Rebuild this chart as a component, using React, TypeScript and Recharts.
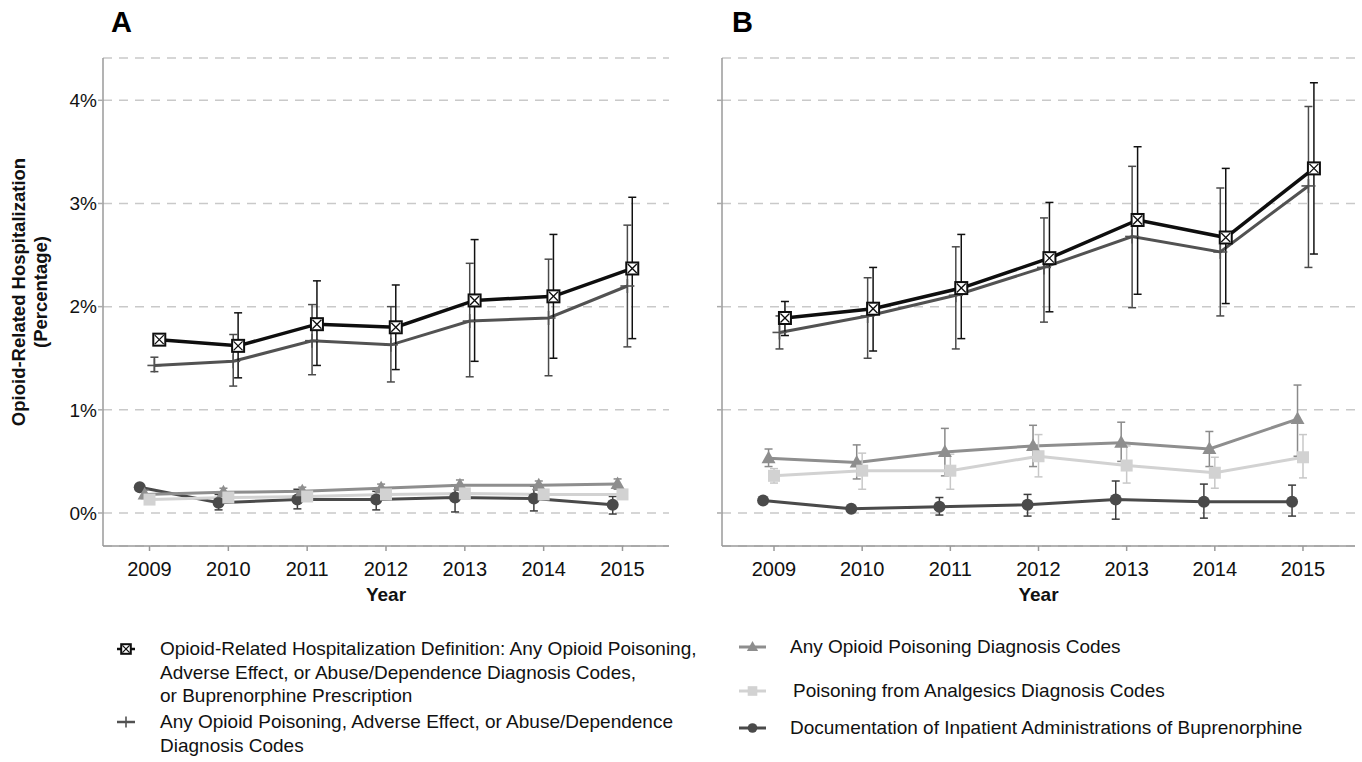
import React from 'react';
import { LineChart, Line, XAxis, YAxis, CartesianGrid, ErrorBar } from 'recharts';

const FONT = '"Liberation Sans", Arial, Helvetica, sans-serif';

// ---------- data ----------
const years = [2009, 2010, 2011, 2012, 2013, 2014, 2015];
const yTicks = [0, 1, 2, 3, 4];

// Panel A
const aAny = [1.68, 1.62, 1.83, 1.8, 2.06, 2.1, 2.37];
const aAnyLow = [1.66, 1.31, 1.43, 1.39, 1.47, 1.5, 1.69];
const aAnyHigh = [1.7, 1.94, 2.25, 2.21, 2.65, 2.7, 3.06];
const aPad = [1.43, 1.47, 1.67, 1.63, 1.86, 1.89, 2.2];
const aPadLow = [1.37, 1.23, 1.34, 1.27, 1.32, 1.33, 1.61];
const aPadHigh = [1.51, 1.73, 2.02, 2.0, 2.42, 2.46, 2.79];
const aPois = [0.18, 0.2, 0.21, 0.24, 0.27, 0.27, 0.28];
const aPoisLow = [0.14, 0.16, 0.17, 0.2, 0.22, 0.22, 0.23];
const aPoisHigh = [0.22, 0.24, 0.25, 0.28, 0.32, 0.31, 0.33];
const aAnalg = [0.13, 0.15, 0.16, 0.18, 0.19, 0.18, 0.18];
const aAnalgLow = [0.1, 0.12, 0.13, 0.15, 0.16, 0.15, 0.15];
const aAnalgHigh = [0.16, 0.18, 0.19, 0.21, 0.23, 0.22, 0.22];
const aBup = [0.25, 0.1, 0.13, 0.13, 0.15, 0.14, 0.08];
const aBupLow = [0.24, 0.03, 0.04, 0.03, 0.01, 0.02, -0.01];
const aBupHigh = [0.26, 0.18, 0.23, 0.21, 0.27, 0.26, 0.16];

// Panel B
const bAny = [1.89, 1.98, 2.18, 2.47, 2.84, 2.67, 3.34];
const bAnyLow = [1.72, 1.57, 1.69, 1.95, 2.12, 2.03, 2.51];
const bAnyHigh = [2.05, 2.38, 2.7, 3.01, 3.55, 3.34, 4.17];
const bPad = [1.75, 1.91, 2.11, 2.38, 2.68, 2.53, 3.17];
const bPadLow = [1.59, 1.5, 1.59, 1.85, 1.99, 1.91, 2.38];
const bPadHigh = [1.91, 2.28, 2.58, 2.86, 3.36, 3.15, 3.94];
const bPois = [0.53, 0.49, 0.59, 0.65, 0.68, 0.62, 0.91];
const bPoisLow = [0.45, 0.33, 0.36, 0.45, 0.5, 0.45, 0.55];
const bPoisHigh = [0.62, 0.66, 0.82, 0.85, 0.88, 0.79, 1.24];
const bAnalg = [0.36, 0.41, 0.41, 0.55, 0.46, 0.39, 0.54];
const bAnalgLow = [0.29, 0.23, 0.23, 0.35, 0.29, 0.24, 0.34];
const bAnalgHigh = [0.43, 0.58, 0.57, 0.76, 0.65, 0.54, 0.76];
const bBup = [0.12, 0.04, 0.06, 0.08, 0.13, 0.11, 0.11];
const bBupLow = [0.11, 0.03, -0.02, -0.03, -0.06, -0.05, -0.03];
const bBupHigh = [0.13, 0.05, 0.15, 0.18, 0.31, 0.28, 0.27];

const legendLeft1 = [
  'Opioid-Related Hospitalization Definition: Any Opioid Poisoning,',
  'Adverse Effect, or Abuse/Dependence Diagnosis Codes,',
  'or Buprenorphine Prescription',
];
const legendLeft2 = ['Any Opioid Poisoning, Adverse Effect, or Abuse/Dependence', 'Diagnosis Codes'];
const legendRight = [
  'Any Opioid Poisoning Diagnosis Codes',
  'Poisoning from Analgesics Diagnosis Codes',
  'Documentation of Inpatient Administrations of Buprenorphine',
];

// ---------- styling ----------
const DODGE = 0.062;
const X_DOMAIN: [number, number] = [2008.41, 2015.59];
const Y_DOMAIN: [number, number] = [-0.32, 4.41];

type MarkerType = 'squareX' | 'plus' | 'triangle' | 'square' | 'circle';

const SERIES_STYLE: Record<string, { color: string; barColor: string; marker: MarkerType; width: number; dodge: number }> = {
  bup: { color: '#4a4a4a', barColor: '#3d3d3d', marker: 'circle', width: 3, dodge: -2 },
  pois: { color: '#8e8e8e', barColor: '#8a8a8a', marker: 'triangle', width: 3, dodge: -1 },
  analg: { color: '#d2d2d2', barColor: '#c8c8c8', marker: 'square', width: 3, dodge: 0 },
  pad: { color: '#525252', barColor: '#4a4a4a', marker: 'plus', width: 3, dodge: 1 },
  any: { color: '#0e0e0e', barColor: '#111111', marker: 'squareX', width: 3.5, dodge: 2 },
};

function renderMarker(type: MarkerType, cx: number, cy: number, color: string, key?: any, scale = 1) {
  if (cx == null || cy == null || isNaN(cx) || isNaN(cy)) return <g key={key} />;
  const s = scale;
  switch (type) {
    case 'squareX':
      return (
        <g key={key}>
          <rect x={cx - 6 * s} y={cy - 6 * s} width={12 * s} height={12 * s} fill="#ffffff" stroke={color} strokeWidth={2} />
          <line x1={cx - 4.5 * s} y1={cy - 4.5 * s} x2={cx + 4.5 * s} y2={cy + 4.5 * s} stroke={color} strokeWidth={1.3} />
          <line x1={cx - 4.5 * s} y1={cy + 4.5 * s} x2={cx + 4.5 * s} y2={cy - 4.5 * s} stroke={color} strokeWidth={1.3} />
        </g>
      );
    case 'plus':
      return (
        <g key={key}>
          <line x1={cx - 7 * s} y1={cy} x2={cx + 7 * s} y2={cy} stroke={color} strokeWidth={1.6} />
          <line x1={cx} y1={cy - 7 * s} x2={cx} y2={cy + 7 * s} stroke={color} strokeWidth={1.6} />
        </g>
      );
    case 'triangle':
      return (
        <polygon
          key={key}
          points={`${cx},${cy - 7.5 * s} ${cx - 7 * s},${cy + 5 * s} ${cx + 7 * s},${cy + 5 * s}`}
          fill={color}
        />
      );
    case 'square':
      return <rect key={key} x={cx - 6 * s} y={cy - 6 * s} width={12 * s} height={12 * s} fill={color} />;
    case 'circle':
    default:
      return <circle key={key} cx={cx} cy={cy} r={6 * s} fill={color} />;
  }
}

function build(vals: number[], lows: number[], highs: number[], dodgeSteps: number) {
  return years.map((yr, i) => ({
    x: yr + dodgeSteps * DODGE,
    y: vals[i],
    err: [vals[i] - lows[i], highs[i] - vals[i]],
  }));
}

type SeriesSet = {
  any: number[][];
  pad: number[][];
  pois: number[][];
  analg: number[][];
  bup: number[][];
};

const panelA: SeriesSet = {
  bup: [aBup, aBupLow, aBupHigh],
  pois: [aPois, aPoisLow, aPoisHigh],
  analg: [aAnalg, aAnalgLow, aAnalgHigh],
  pad: [aPad, aPadLow, aPadHigh],
  any: [aAny, aAnyLow, aAnyHigh],
};
const panelB: SeriesSet = {
  bup: [bBup, bBupLow, bBupHigh],
  pois: [bPois, bPoisLow, bPoisHigh],
  analg: [bAnalg, bAnalgLow, bAnalgHigh],
  pad: [bPad, bPadLow, bPadHigh],
  any: [bAny, bAnyLow, bAnyHigh],
};

const ORDER = ['bup', 'pois', 'analg', 'pad', 'any'];

const YLabel = (props: any) => {
  const vb = props.viewBox || { x: 0, y: 58, width: 103, height: 488 };
  const cy = vb.y + vb.height / 2 - 10;
  return (
    <g>
      <text
        transform={`translate(25, ${cy}) rotate(-90)`}
        textAnchor="middle"
        fontWeight="bold"
        fontSize={18.5}
        fontFamily={FONT}
        fill="#111"
      >
        Opioid-Related Hospitalization
      </text>
      <text
        transform={`translate(47, ${cy}) rotate(-90)`}
        textAnchor="middle"
        fontWeight="bold"
        fontSize={18.5}
        fontFamily={FONT}
        fill="#111"
      >
        (Percentage)
      </text>
    </g>
  );
};

function Panel({ set, width, height, yAxisWidth, marginRight, showYLabels }: {
  set: SeriesSet; width: number; height: number; yAxisWidth: number; marginRight: number; showYLabels: boolean;
}) {
  return (
    <LineChart width={width} height={height} margin={{ top: 58, right: marginRight, bottom: 14, left: 0 }}>
      <CartesianGrid vertical={false} stroke="#c9c9c9" strokeWidth={1.5} strokeDasharray="9 7" />
      <XAxis
        type="number"
        dataKey="x"
        domain={X_DOMAIN}
        allowDataOverflow
        ticks={years}
        interval={0}
        height={60}
        axisLine={{ stroke: '#9a9a9a', strokeWidth: 1.5 }}
        tickLine={{ stroke: '#9a9a9a', strokeWidth: 1.5 }}
        tickSize={5}
        tickMargin={11}
        tick={{ fill: '#111', fontSize: 20, fontFamily: FONT }}
        label={{ value: 'Year', position: 'insideBottom', offset: 5, fill: '#111', fontSize: 19, fontWeight: 'bold', fontFamily: FONT }}
      />
      <YAxis
        type="number"
        domain={Y_DOMAIN}
        allowDataOverflow
        ticks={yTicks}
        interval={0}
        width={yAxisWidth}
        axisLine={{ stroke: '#9a9a9a', strokeWidth: 1.5 }}
        tickLine={{ stroke: '#aaaaaa', strokeWidth: 1.5 }}
        tickSize={5}
        tickMargin={1}
        tick={{ fill: '#111', fontSize: 19, fontFamily: FONT }}
        tickFormatter={(v: number) => (showYLabels ? `${v}%` : '')}
        label={showYLabels ? { content: (p: any) => <YLabel {...p} /> } : undefined}
      />
      {ORDER.map((k) => {
        const st = SERIES_STYLE[k];
        const [v, lo, hi] = (set as any)[k];
        const data = build(v, lo, hi, st.dodge);
        return (
          <Line
            key={k}
            data={data}
            dataKey="y"
            type="linear"
            stroke={st.color}
            strokeWidth={st.width}
            isAnimationActive={false}
            activeDot={false}
            dot={(p: any) => renderMarker(st.marker, p.cx, p.cy, st.color, `${k}-${p.index}`)}
          >
            <ErrorBar dataKey="err" direction="y" width={4} stroke={st.barColor} strokeWidth={1.5} />
          </Line>
        );
      })}
    </LineChart>
  );
}

function LegendIcon({ type, color, lineWidth, w }: { type: MarkerType; color: string; lineWidth: number; w: number }) {
  return (
    <svg width={w} height={18} style={{ display: 'block' }}>
      <line x1={0} y1={9} x2={w} y2={9} stroke={color} strokeWidth={lineWidth} />
      {renderMarker(type, w / 2, 9, color, undefined, 0.8)}
    </svg>
  );
}

const textStyle: React.CSSProperties = {
  position: 'absolute',
  fontFamily: FONT,
  fontSize: 19,
  color: '#111',
  whiteSpace: 'nowrap',
  lineHeight: '23.5px',
};

export default function App() {
  return (
    <div style={{ position: 'absolute', left: 0, top: 0, width: 1362, height: 762, background: '#fff', overflow: 'hidden' }}>
      <div style={{ position: 'absolute', left: 0, top: 0 }}>
        <Panel set={panelA} width={690} height={620} yAxisWidth={103} marginRight={21} showYLabels={true} />
      </div>
      <div style={{ position: 'absolute', left: 650, top: 0 }}>
        <Panel set={panelB} width={712} height={620} yAxisWidth={72} marginRight={7} showYLabels={false} />
      </div>

      <div style={{ position: 'absolute', left: 111, top: 8, fontFamily: FONT, fontWeight: 'bold', fontSize: 29, lineHeight: '29px', color: '#000' }}>A</div>
      <div style={{ position: 'absolute', left: 732, top: 8, fontFamily: FONT, fontWeight: 'bold', fontSize: 29, lineHeight: '29px', color: '#000' }}>B</div>

      {/* Legend left column */}
      <div style={{ position: 'absolute', left: 117, top: 640 }}>
        <LegendIcon type="squareX" color={SERIES_STYLE.any.color} lineWidth={2.5} w={18} />
      </div>
      <div style={{ ...textStyle, left: 160, top: 637 }}>
        {legendLeft1.map((t, i) => (
          <div key={i}>{t}</div>
        ))}
      </div>
      <div style={{ position: 'absolute', left: 117, top: 713 }}>
        <LegendIcon type="plus" color={SERIES_STYLE.pad.color} lineWidth={2.5} w={18} />
      </div>
      <div style={{ ...textStyle, left: 160, top: 710 }}>
        {legendLeft2.map((t, i) => (
          <div key={i}>{t}</div>
        ))}
      </div>

      {/* Legend right column */}
      <div style={{ position: 'absolute', left: 739, top: 638 }}>
        <LegendIcon type="triangle" color={SERIES_STYLE.pois.color} lineWidth={3} w={27} />
      </div>
      <div style={{ ...textStyle, left: 790, top: 635 }}>{legendRight[0]}</div>
      <div style={{ position: 'absolute', left: 739, top: 682 }}>
        <LegendIcon type="square" color={SERIES_STYLE.analg.color} lineWidth={3} w={27} />
      </div>
      <div style={{ ...textStyle, left: 793, top: 679 }}>{legendRight[1]}</div>
      <div style={{ position: 'absolute', left: 739, top: 719 }}>
        <LegendIcon type="circle" color={SERIES_STYLE.bup.color} lineWidth={3} w={27} />
      </div>
      <div style={{ ...textStyle, left: 790, top: 716 }}>{legendRight[2]}</div>
    </div>
  );
}
